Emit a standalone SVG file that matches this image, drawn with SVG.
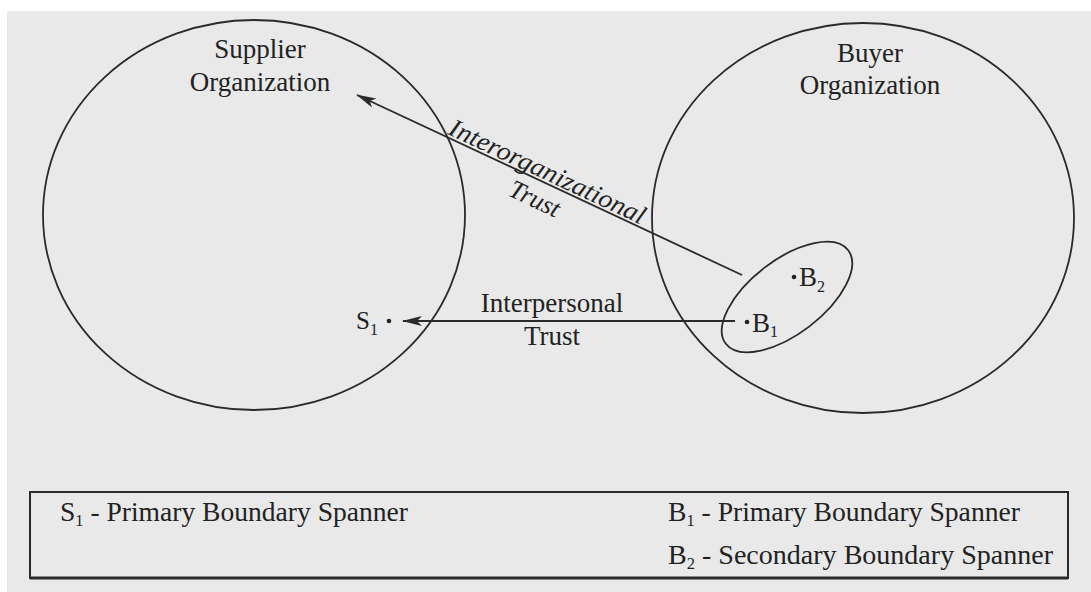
<svg xmlns="http://www.w3.org/2000/svg" width="1091" height="592" viewBox="0 0 1091 592">
<defs>
<style>
.ln{fill:none;stroke:#2a2a2a;stroke-width:1.8}
.t{font-family:"Liberation Serif","Times New Roman",serif;fill:#222;font-size:27px}
.it{font-style:italic;font-size:26px}
.lg{font-family:"Liberation Serif","Times New Roman",serif;fill:#222;font-size:27px}
.sub{font-size:16px}
</style>
<marker id="ah" viewBox="0 0 20 10" refX="19" refY="5" markerWidth="20" markerHeight="10" markerUnits="userSpaceOnUse" orient="auto">
<path d="M20,5 L0,0 L5,5 L0,10 Z" fill="#2a2a2a"/>
</marker>
</defs>
<rect x="0" y="0" width="1091" height="592" fill="#ffffff"/>
<rect x="7" y="11" width="1084" height="581" fill="#e9e9e9"/>

<g id="supplier">
<ellipse class="ln" cx="254" cy="215" rx="211" ry="195"/>
<text class="t" x="260" y="58" text-anchor="middle">Supplier</text>
<text class="t" x="260" y="91" text-anchor="middle">Organization</text>
</g>

<g id="buyer">
<ellipse class="ln" cx="863" cy="218" rx="211" ry="195"/>
<text class="t" x="870" y="62" text-anchor="middle">Buyer</text>
<text class="t" x="870" y="94" text-anchor="middle">Organization</text>
</g>

<g id="spanners">
<ellipse class="ln" cx="787" cy="297" rx="77" ry="37" transform="rotate(-37.4 787 297)"/>
<circle cx="747" cy="322" r="2.3" fill="#222"/>
<text class="t" x="752" y="332" font-size="25">B<tspan class="sub" dy="5">1</tspan></text>
<circle cx="794" cy="277" r="2.3" fill="#222"/>
<text class="t" x="799" y="286" font-size="25">B<tspan class="sub" dy="6">2</tspan></text>
</g>

<g id="s1">
<text class="t" x="356" y="329" style="font-size:25px">S<tspan class="sub" dy="6">1</tspan></text>
<circle cx="389" cy="321" r="2.3" fill="#222"/>
</g>

<g id="connectors">
<line class="ln" x1="735" y1="321" x2="403" y2="321" marker-end="url(#ah)"/>
<line class="ln" x1="742" y1="275" x2="357" y2="95" marker-end="url(#ah)"/>
</g>

<g id="labels">
<text class="t" x="552" y="312" text-anchor="middle">Interpersonal</text>
<text class="t" x="552" y="345" text-anchor="middle">Trust</text>
<g transform="translate(357,95) rotate(25.1)">
<text class="t it" x="205" y="-3" text-anchor="middle" textLength="214" lengthAdjust="spacingAndGlyphs">Interorganizational</text>
<text class="t it" x="205" y="27" text-anchor="middle">Trust</text>
</g>
</g>

<g id="legend">
<rect x="30" y="492" width="1038" height="86" fill="none" stroke="#2a2a2a" stroke-width="2"/>
<line x1="30" y1="578" x2="1068" y2="578" stroke="#2a2a2a" stroke-width="3"/>
<text class="lg" x="60" y="521" textLength="348" lengthAdjust="spacingAndGlyphs">S<tspan class="sub" dy="5">1</tspan><tspan dy="-5"> - Primary Boundary Spanner</tspan></text>
<text class="lg" x="668" y="521" textLength="352" lengthAdjust="spacingAndGlyphs">B<tspan class="sub" dy="5">1</tspan><tspan dy="-5"> - Primary Boundary Spanner</tspan></text>
<text class="lg" x="668" y="564" textLength="385" lengthAdjust="spacingAndGlyphs">B<tspan class="sub" dy="5">2</tspan><tspan dy="-5"> - Secondary Boundary Spanner</tspan></text>
</g>
</svg>
